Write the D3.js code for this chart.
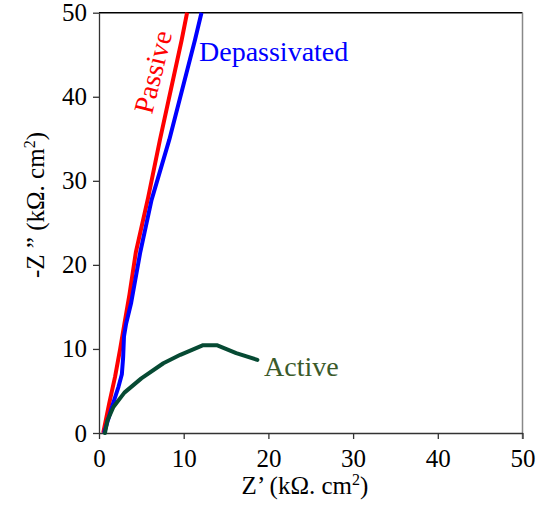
<!DOCTYPE html>
<html><head><meta charset="utf-8">
<script src="https://cdn.jsdelivr.net/npm/d3@7"></script>
<style>body{margin:0;background:#fff}svg{display:block}</style>
</head><body>
<script>
const xTicks = [0,10,20,30,40,50];
const yTicks = [0,10,20,30,40,50];
const passive = [[0.5,0],[1.2,3.5],[1.9,6.7],[2.5,10],[3.0,13],[3.6,16.5],[4.35,21.5],[5.8,28],[7.2,34.9],[9.76,46.75],[10.4,50]];
const depassivated = [[0.6,0],[1.5,3],[2.3,5.5],[2.7,7],[2.85,9],[2.95,11.5],[3.2,13],[3.8,15.5],[4.87,21.5],[6.2,27.7],[8.3,34.9],[11.33,46.75],[12.1,50]];
const active = [[0.7,0],[1.0,1.5],[1.7,3.1],[3.0,4.8],[5.0,6.5],[7.6,8.3],[9.6,9.3],[12.3,10.45],[13.9,10.45],[16.2,9.5],[18.7,8.7]];

const FONT = 'Liberation Serif';
const W=544,H=506;
const svg=d3.select("body").append("svg").attr("width",W).attr("height",H);
const x=d3.scaleLinear().domain([0,50]).range([99,522.5]);
const y=d3.scaleLinear().domain([0,50]).range([433,12.7]);

// frame
svg.append("line").attr("x1",x(0)).attr("x2",x(50)).attr("y1",y(50)).attr("y2",y(50)).attr("stroke","#000").attr("stroke-width",1.5);
svg.append("line").attr("x1",x(50)).attr("x2",x(50)).attr("y1",y(50)).attr("y2",y(0)+6).attr("stroke","#888").attr("stroke-width",1.5);

const xa=svg.append("g").attr("transform",`translate(0,${y(0)})`).call(d3.axisBottom(x).tickValues(xTicks).tickSize(6).tickPadding(10).tickSizeOuter(0));
const ya=svg.append("g").attr("transform",`translate(${x(0)},0)`).call(d3.axisLeft(y).tickValues(yTicks).tickSize(6).tickPadding(6).tickSizeOuter(0));
[xa,ya].forEach(a=>{a.attr("font-family",FONT);a.selectAll("text").attr("font-size",25).attr("fill","#000").attr("font-family",FONT);a.selectAll("line,path").attr("stroke","#333").attr("stroke-width",1.3);});

const line=d3.line().x(d=>x(d[0])).y(d=>y(d[1]));
svg.append("path").datum(passive).attr("d",line).attr("fill","none").attr("stroke","#ff0000").attr("stroke-width",4).attr("stroke-linejoin","round");
svg.append("path").datum(depassivated).attr("d",line).attr("fill","none").attr("stroke","#0000ff").attr("stroke-width",4).attr("stroke-linejoin","round");
svg.append("path").datum(active).attr("d",line).attr("fill","none").attr("stroke","#064a33").attr("stroke-width",4).attr("stroke-linejoin","round").attr("stroke-linecap","round");

svg.append("text").attr("transform","translate(152,115) rotate(-76)").attr("font-size",28).attr("fill","#ff0000").attr("font-family",FONT).text("Passive");
svg.append("text").attr("x",199).attr("y",61).attr("font-size",28).attr("fill","#0000ff").attr("font-family",FONT).text("Depassivated");
svg.append("text").attr("x",264).attr("y",376).attr("font-size",28).attr("fill","#3a5a2a").attr("font-family",FONT).text("Active");

const xt=svg.append("text").attr("x",305).attr("y",494).attr("text-anchor","middle").attr("font-size",25).attr("font-family",FONT);
xt.append("tspan").text("Z’ (kΩ. cm");
xt.append("tspan").attr("font-size",16).attr("dy",-9).text("2");
xt.append("tspan").attr("dy",9).text(")");
const yt=svg.append("text").attr("transform","translate(44,205) rotate(-90)").attr("text-anchor","middle").attr("font-size",25).attr("font-family",FONT);
yt.append("tspan").text("-Z ” (kΩ. cm");
yt.append("tspan").attr("font-size",16).attr("dy",-9).text("2");
yt.append("tspan").attr("dy",9).text(")");
</script>
</body></html>
